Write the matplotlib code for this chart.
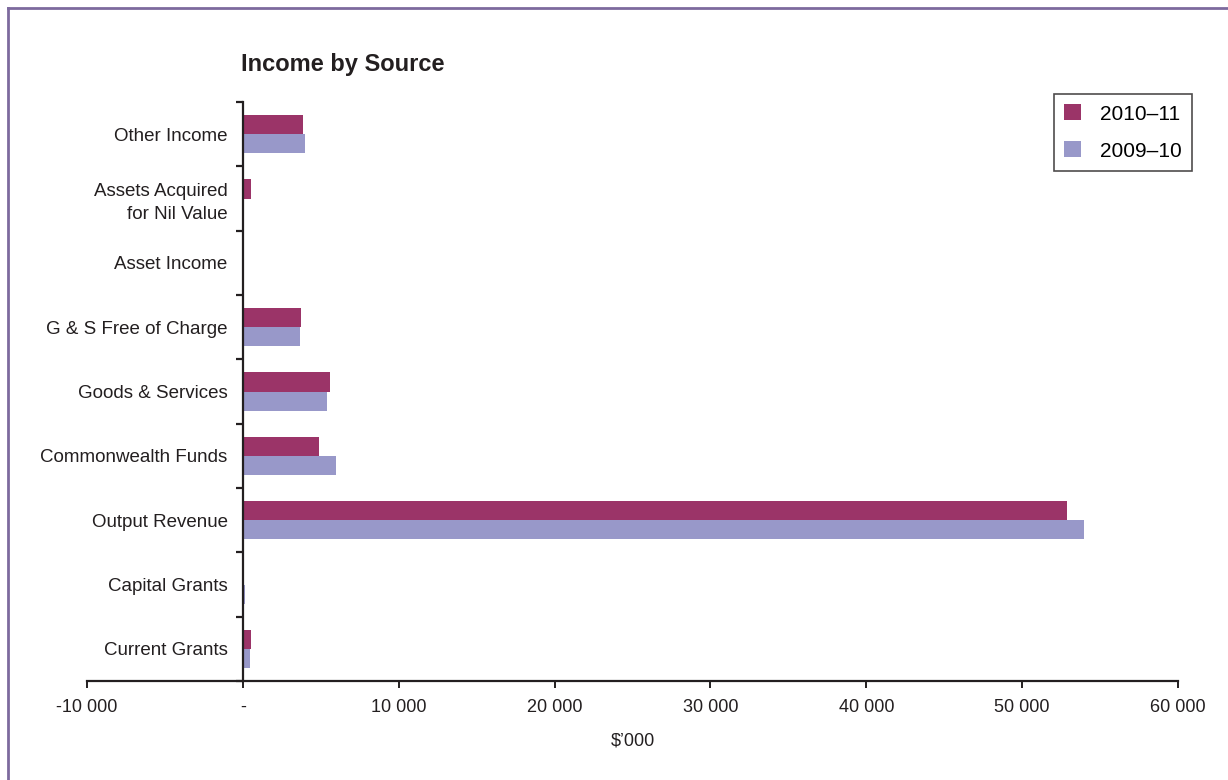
import numpy as np
import matplotlib.pyplot as plt
from matplotlib.lines import Line2D

plt.rcParams['font.family'] = ['Liberation Sans', 'DejaVu Sans']

categories = ['Current Grants', 'Capital Grants', 'Output Revenue', 'Commonwealth Funds',
              'Goods & Services', 'G & S Free of Charge', 'Asset Income',
              'Assets Acquired\nfor Nil Value', 'Other Income']
income_2010_11 = [510, 0, 52900, 4900, 5620, 3700, 0, 510, 3830]
income_2009_10 = [450, 150, 53990, 5990, 5370, 3680, 100, 0, 3960]

xticks = [-10000, 0, 10000, 20000, 30000, 40000, 50000, 60000]
xtick_labels = ['-10 000', '-', '10 000', '20 000', '30 000', '40 000', '50 000', '60 000']

col_new = '#9b3468'
col_old = '#9898c9'

fig = plt.figure(figsize=(12.28, 7.8), dpi=100, facecolor='white')
ax = fig.add_axes([87/1228, 1 - 681/780, (1178 - 87)/1228, (681 - 102)/780])

y = np.arange(len(categories))
h = 0.3
ax.barh(y + h/2, income_2010_11, height=h, color=col_new, label='2010–11')
ax.barh(y - h/2, income_2009_10, height=h, color=col_old, label='2009–10')

ax.set_xlim(-10000, 60000)
ax.set_ylim(-0.5, len(categories) - 0.5)

# spines: only the bottom line and a vertical line at zero
ax.spines['top'].set_visible(False)
ax.spines['right'].set_visible(False)
ax.spines['left'].set_position(('data', 0))
for s in ['left', 'bottom']:
    ax.spines[s].set_linewidth(1.6)
    ax.spines[s].set_color('#231f20')

ax.set_xticks(xticks)
ax.set_xticklabels(xtick_labels, fontsize=13, color='#231f20')
ax.tick_params(axis='x', length=5, width=1.4, color='#231f20', pad=8)

# category boundaries as tick marks, names centred between them
ax.set_yticks(np.arange(-0.5, len(categories), 1.0))
ax.set_yticklabels([])
ax.tick_params(axis='y', which='major', length=5, width=1.6, color='#231f20')
ax.set_yticks(y, minor=True)
ax.set_yticklabels(categories, minor=True, fontsize=13.5, color='#231f20', ha='right',
                   linespacing=1.4)
ax.tick_params(axis='y', which='minor', length=0, pad=11)

ax.set_xlabel('$’000', fontsize=13, color='#231f20', labelpad=12)

fig.text(241/1228, 1 - 65/780, 'Income by Source', fontsize=17, fontweight='bold',
         color='#231f20', va='center', ha='left')

leg = ax.legend(loc='upper right', bbox_to_anchor=(1192/1228, 1 - 94/780),
                bbox_transform=fig.transFigure, fontsize=15, frameon=True,
                fancybox=False, edgecolor='#231f20', handlelength=0.8,
                handleheight=0.8, handletextpad=0.9, borderpad=0.5,
                labelspacing=0.85, borderaxespad=0)
leg.get_frame().set_linewidth(1.2)

# purple frame round the figure (top and left edges visible)
fig.add_artist(Line2D([8/1228, 8/1228], [0, 1 - 8/780], transform=fig.transFigure,
                      color='#7d6a9e', linewidth=2))
fig.add_artist(Line2D([8/1228, 1], [1 - 8/780, 1 - 8/780], transform=fig.transFigure,
                      color='#7d6a9e', linewidth=2))

plt.savefig('out.png', dpi=100)
